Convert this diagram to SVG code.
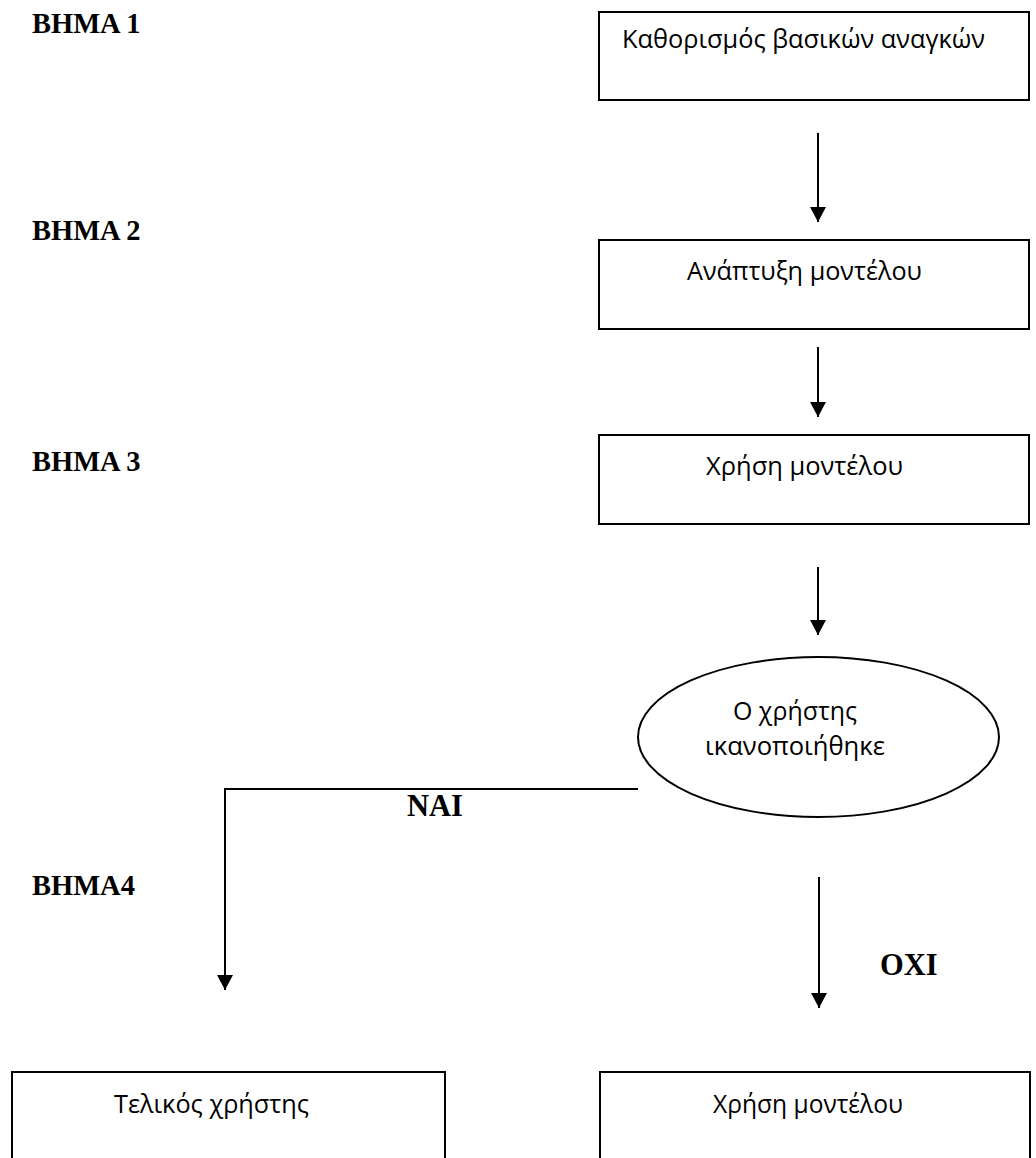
<svg xmlns="http://www.w3.org/2000/svg" width="1036" height="1158" viewBox="0 0 1036 1158">
  <style>
    .box { fill: #ffffff; stroke: #000000; stroke-width: 2; }
    .label { font-family: "Open Sans", "Noto Sans", sans-serif; font-size: 25.5px; fill: #000000; }
    .step { font-family: "Liberation Serif", "Times New Roman", serif; font-weight: bold; font-size: 28.5px; fill: #000000; }
    .answer { font-family: "Liberation Serif", "Times New Roman", serif; font-weight: bold; font-size: 30.5px; fill: #000000; }
    .link { fill: none; stroke: #000000; stroke-width: 2; }
  </style>
  <defs>
    <marker id="head" markerUnits="userSpaceOnUse" markerWidth="16" markerHeight="16" refX="15" refY="8" orient="auto">
      <path d="M0,0 L15,8 L0,16 Z" fill="#000000"/>
    </marker>
  </defs>

  <rect width="1036" height="1158" fill="#ffffff"/>

  <!-- step labels -->
  <g id="steps">
    <text class="step" x="32" y="33">ΒΗΜΑ 1</text>
    <text class="step" x="32" y="240">ΒΗΜΑ 2</text>
    <text class="step" x="32" y="471">ΒΗΜΑ 3</text>
    <text class="step" x="32" y="895">ΒΗΜΑ4</text>
  </g>

  <!-- connectors -->
  <g id="connectors">
    <line class="link" x1="818" y1="133" x2="818" y2="222" marker-end="url(#head)"/>
    <line class="link" x1="818" y1="347" x2="818" y2="417" marker-end="url(#head)"/>
    <line class="link" x1="818" y1="567" x2="818" y2="635" marker-end="url(#head)"/>
    <polyline class="link" points="638,789 225,789 225,990" marker-end="url(#head)"/>
    <line class="link" x1="819" y1="877" x2="819" y2="1008" marker-end="url(#head)"/>
    <text class="answer" x="407" y="816">ΝΑΙ</text>
    <text class="answer" x="880" y="975">ΟΧΙ</text>
  </g>

  <g id="needs">
    <rect class="box" x="599" y="12" width="430" height="88"/>
    <text class="label" x="622" y="48" textLength="363" lengthAdjust="spacingAndGlyphs">Καθορισμός βασικών αναγκών</text>
  </g>

  <g id="develop">
    <rect class="box" x="599" y="240" width="430" height="89"/>
    <text class="label" x="687" y="280" textLength="235" lengthAdjust="spacingAndGlyphs">Ανάπτυξη μοντέλου</text>
  </g>

  <g id="use">
    <rect class="box" x="599" y="435" width="430" height="89"/>
    <text class="label" x="706" y="475" textLength="197" lengthAdjust="spacingAndGlyphs">Χρήση μοντέλου</text>
  </g>

  <g id="satisfied">
    <ellipse class="box" cx="818.5" cy="737" rx="180.5" ry="80"/>
    <text class="label" x="733" y="720" textLength="124" lengthAdjust="spacingAndGlyphs">Ο χρήστης</text>
    <text class="label" x="705" y="755" textLength="180" lengthAdjust="spacingAndGlyphs">ικανοποιήθηκε</text>
  </g>

  <g id="final-user">
    <rect class="box" x="12" y="1072" width="433" height="120"/>
    <text class="label" x="114" y="1113" textLength="195" lengthAdjust="spacingAndGlyphs">Τελικός χρήστης</text>
  </g>

  <g id="use-again">
    <rect class="box" x="600" y="1072" width="430" height="120"/>
    <text class="label" x="713" y="1113" textLength="190" lengthAdjust="spacingAndGlyphs">Χρήση μοντέλου</text>
  </g>
</svg>
